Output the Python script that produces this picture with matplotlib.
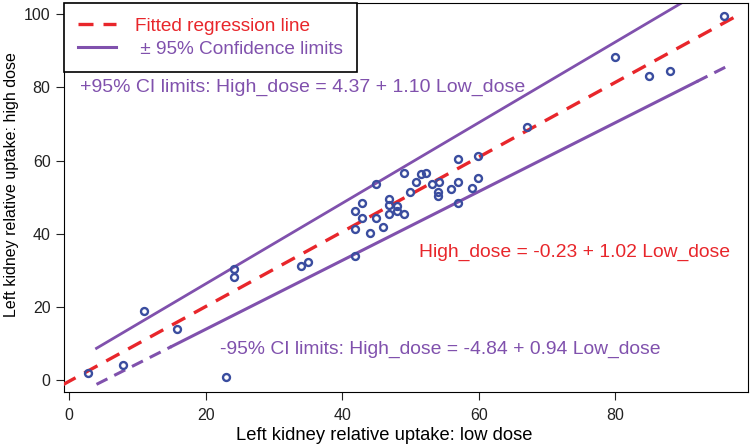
import numpy as np
import matplotlib
matplotlib.use('Agg')
import matplotlib.pyplot as plt
from matplotlib.lines import Line2D

plt.rcParams['font.family'] = ['Liberation Sans', 'DejaVu Sans']

low_dose = [2.8, 7.9, 11.0, 15.8, 23.0, 24.2, 24.2, 34.0, 35.0, 41.9, 41.9, 41.9,
            42.9, 42.9, 44.0, 45.0, 45.0, 46.0, 46.9, 46.9, 46.9, 48.0, 48.0, 49.0,
            49.0, 49.9, 50.8, 51.6, 52.3, 53.1, 54.1, 54.0, 54.0, 56.0, 57.0, 57.0,
            57.0, 59.0, 59.9, 59.9, 67.0, 80.0, 85.0, 88.0, 95.9]
high_dose = [2.1, 4.3, 19.0, 14.0, 1.0, 30.3, 28.1, 31.1, 32.2, 34.0, 41.3, 46.3,
             48.3, 44.4, 40.2, 44.4, 53.5, 42.0, 49.4, 47.9, 45.3, 47.6, 46.3, 45.3,
             56.5, 51.3, 54.2, 56.4, 56.6, 53.5, 54.2, 51.3, 50.4, 52.2, 60.4, 54.2,
             48.3, 52.4, 61.3, 55.3, 69.1, 88.3, 83.1, 84.5, 99.4]

# regression equations (intercept, slope)
fit_coef = [-0.23, 1.02]
upper_coef = [4.37, 1.10]
lower_coef = [-4.84, 0.94]

fit_range = [-1.0, 98.5]
upper_range = [4.0, 95.0]
lower_dash1 = [4.0, 15.0]
lower_solid = [15.0, 91.9]
lower_dash2 = [91.9, 96.8]

xticks = [0, 20, 40, 60, 80]
yticks = [0, 20, 40, 60, 80, 100]

red = '#e8262b'
purple = '#8051ad'
blue = '#3a4d9f'

fig = plt.figure(figsize=(7.5, 4.45), dpi=100)
ax = fig.add_axes([0.085, 0.118, 0.912, 0.875])


def line(coef, rng):
    xs = np.array(rng)
    return xs, coef[0] + coef[1] * xs


x, y = line(fit_coef, fit_range)
ax.plot(x, y, color=red, lw=2.4, dashes=(4.5, 3), zorder=3)
x, y = line(upper_coef, upper_range)
ax.plot(x, y, color=purple, lw=2.0, zorder=2)
x, y = line(lower_coef, lower_solid)
ax.plot(x, y, color=purple, lw=2.2, zorder=2)
for rng in [lower_dash1, lower_dash2]:
    x, y = line(lower_coef, rng)
    ax.plot(x, y, color=purple, lw=2.2, dashes=(4, 2.5), zorder=2)

ax.plot(low_dose, high_dose, 'o', mfc='none', mec=blue, mew=1.7, ms=5.0, zorder=4)

ax.set_xlim(-0.8, 99.4)
ax.set_ylim(-3.3, 103)
ax.set_xticks(xticks)
ax.set_yticks(yticks)
ax.tick_params(labelsize=11.5, length=6, direction='out', colors='#222222')
ax.tick_params(axis='x', pad=5)
ax.set_xlabel('Left kidney relative uptake: low dose', fontsize=13.2)
ax.set_ylabel('Left kidney relative uptake: high dose', fontsize=11.5)
ax.xaxis.set_label_coords(0.468, -0.111)
ax.xaxis.label.set_va('center')
ax.yaxis.set_label_coords(-0.076, 0.535)
ax.yaxis.label.set_va('center')

ax.text(1.6, 80, '+95% CI limits: High_dose = 4.37 + 1.10 Low_dose',
        color=purple, fontsize=14.0, va='center', ha='left')
ax.text(51.2, 35, 'High_dose = -0.23 + 1.02 Low_dose',
        color=red, fontsize=13.9, va='center', ha='left')
ax.text(22.1, 8.4, '-95% CI limits: High_dose = -4.84 + 0.94 Low_dose',
        color=purple, fontsize=13.9, va='center', ha='left')

handles = [Line2D([], [], color=red, lw=2.4, dashes=(4.5, 3)),
           Line2D([], [], color=purple, lw=2.2)]
leg = ax.legend(handles, ['Fitted regression line', ' \u00b1 95% Confidence limits'],
                loc='upper left', borderaxespad=0, fancybox=False, framealpha=1,
                edgecolor='black', fontsize=13.7, handlelength=2.0,
                handletextpad=1.0, borderpad=0.75, labelspacing=0.3)
leg.get_frame().set_linewidth(1.2)
leg.get_texts()[0].set_color(red)
leg.get_texts()[1].set_color(purple)

plt.savefig('out.png', dpi=100)
